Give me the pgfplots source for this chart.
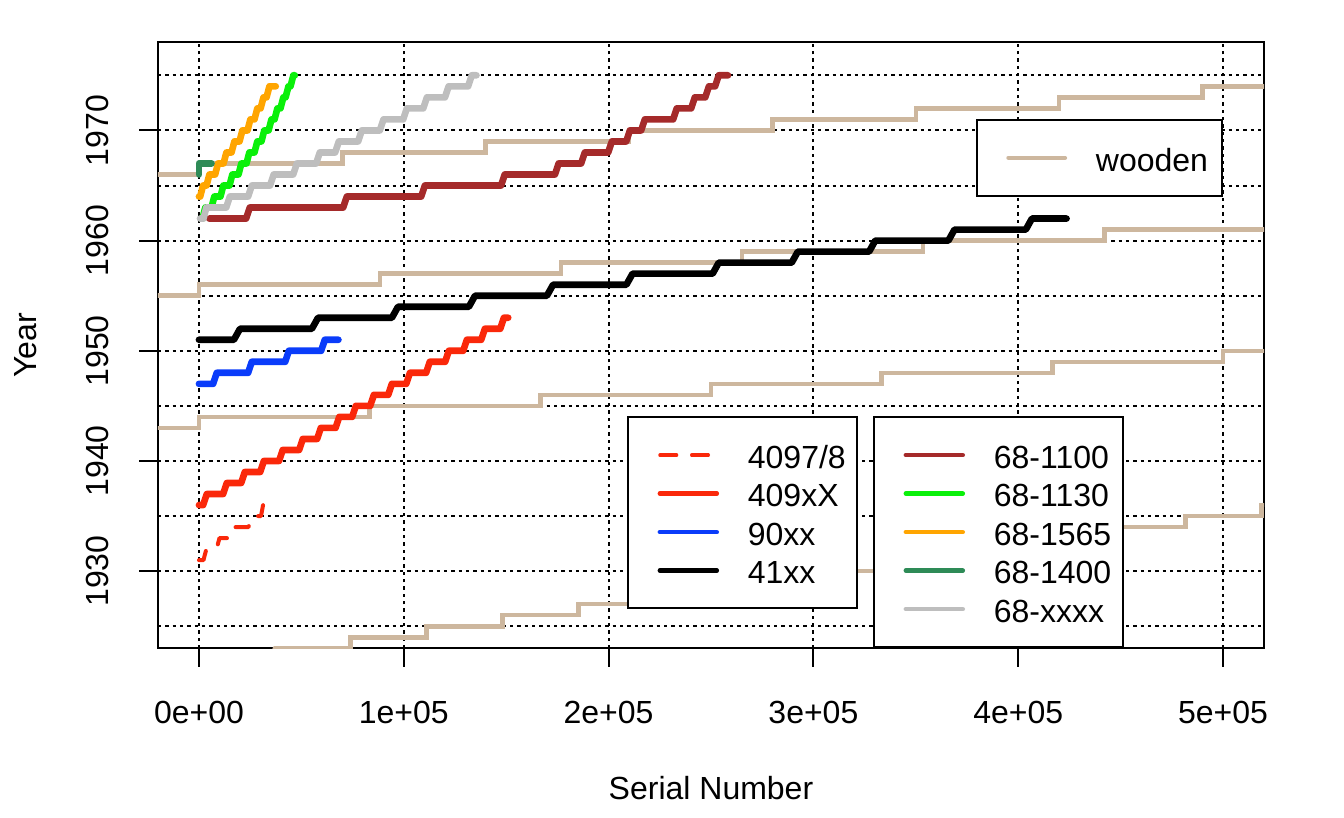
\documentclass[border=0pt]{standalone}
\usepackage{fontspec}
\setmainfont{Liberation Sans}
\usepackage{pgfplots}
\pgfplotsset{compat=1.18}
\definecolor{woodc}{RGB}{205,183,158}
\definecolor{redc}{RGB}{250,40,10}
\definecolor{bluec}{RGB}{10,60,250}
\definecolor{brownc}{RGB}{165,42,42}
\definecolor{greenc}{RGB}{10,240,10}
\definecolor{orangec}{RGB}{255,165,0}
\definecolor{seagreenc}{RGB}{46,139,87}
\definecolor{greyc}{RGB}{190,190,190}
\newcommand\LE[2]{\rule[-2.88pt]{0pt}{14.37pt}\makebox[#1][l]{#2}}
\pgfplotsset{
  basepos/.style={scale only axis, width=414.75pt, height=227.25pt,
    at={(59.25pt,63.64pt)}, anchor=south west,
    xmin=-20000, xmax=520000, ymin=1923, ymax=1978},
  mylegend/.style={legend cell align=left,
    legend style={draw=black, line width=0.75pt, fill=white,
      inner xsep=0pt, inner ysep=7.7pt, outer sep=0pt,
      row sep=1.45pt, column sep=9.9pt, anchor=north west,
      font=\fontsize{12}{14.4}\selectfont, nodes={inner sep=0pt}},
    legend image code/.code={\path (0pt,-1pt) (33.2pt,1pt); \draw[##1] (11pt,0pt) -- (32.3pt,0pt);}},
  heavy/.style={line width=2.5pt, line cap=round, line join=round},
  wood/.style={woodc, line width=1.7pt, line cap=round, const plot},
}
\begin{document}
\begin{tikzpicture}
\useasboundingbox (0,0) rectangle (504pt,306.75pt);
\begin{axis}[basepos,
  axis line style={line width=0.75pt},
  xtick={0,100000,200000,300000,400000,500000},
  xticklabels={0e+00,1e+05,2e+05,3e+05,4e+05,5e+05},
  scaled x ticks=false,
  ytick={1930,1940,1950,1960,1970},
  yticklabels={1930,1940,1950,1960,1970},
  minor ytick={1925,1935,1945,1955,1965,1975},
  xtick pos=left, ytick pos=left,
  tick align=inside, major tick length=-7.2pt, minor tick length=0pt,
  tick style={black, line width=0.75pt},
  grid=both,
  major grid style={black, line width=0.75pt, dash pattern=on 1.2pt off 1.55pt},
  minor grid style={black, line width=0.75pt, dash pattern=on 1.2pt off 1.55pt},
  tick label style={font=\fontsize{12}{14.4}\selectfont},
  xticklabel style={anchor=north, inner sep=0pt, yshift=-19.8pt},
  yticklabel style={xshift=-18.4pt, rotate=90, anchor=south, inner sep=0pt},
  xlabel={Serial Number}, ylabel={Year},
  label style={font=\fontsize{12}{14.4}\selectfont},
  xlabel style={at={(axis description cs:0.5,-0.2112)}, anchor=north, inner sep=0pt},
  ylabel style={at={(axis description cs:-0.1095,0.5)}, anchor=south, inner sep=0pt},
  mylegend, legend style={at={(0.7405,0.8718)}},
]
% wooden
\addplot[forget plot, wood] coordinates {(37000,1923) (74100,1924) (111150,1925) (148200,1926) (185250,1927) (222300,1928) (259350,1929) (296400,1930) (333450,1931) (370500,1932) (407550,1933) (444600,1934) (481650,1935) (518700,1936) (540000,1936)};
\addplot[forget plot, wood] coordinates {(-40000,1943) (0,1944) (83300,1945) (166700,1946) (250000,1947) (333300,1948) (416700,1949) (500000,1950) (540000,1950)};
\addplot[forget plot, wood] coordinates {(-40000,1955) (0,1956) (88400,1957) (176800,1958) (265200,1959) (353600,1960) (442000,1961) (540000,1961)};
\addplot[forget plot, wood] coordinates {(-40000,1966) (0,1967) (70000,1968) (140000,1969) (210000,1970) (280000,1971) (350000,1972) (420000,1973) (490000,1974) (540000,1974)};
% 4097/8
\addplot[forget plot, redc, line width=1.5pt, line cap=round, line join=round, dash pattern=on 5.25pt off 6.4pt] coordinates {(0,1931) (2200,1931) (3600,1932) (8600,1932) (10000,1933) (14400,1933) (15800,1934) (24200,1934) (25600,1935) (30300,1935) (31300,1936)};
% 409xX
\addplot[forget plot, redc, heavy] coordinates {(0,1936) (2030,1936) (3830,1937) (11800,1937) (13600,1938) (20600,1938) (22400,1939) (29900,1939) (31700,1940) (39100,1940) (40900,1941) (48900,1941) (50700,1942) (57700,1942) (59500,1943) (66700,1943) (68500,1944) (74800,1944) (76600,1945) (83600,1945) (85400,1946) (92400,1946) (94200,1947) (101200,1947) (103000,1948) (110900,1948) (112700,1949) (120200,1949) (122000,1950) (129000,1950) (130800,1951) (137800,1951) (139600,1952) (147100,1952) (148900,1953) (151000,1953)};
% 90xx
\addplot[forget plot, bluec, heavy] coordinates {(0,1947) (6900,1947) (8700,1948) (24000,1948) (25800,1949) (42100,1949) (43900,1950) (59650,1950) (61450,1951) (68100,1951)};
% 41xx
\addplot[forget plot, black, heavy] coordinates {(0,1951) (17050,1951) (20050,1952) (55140,1952) (58140,1953) (94200,1953) (97200,1954) (131800,1954) (134800,1955) (169900,1955) (172900,1956) (208700,1956) (211700,1957) (250800,1957) (253800,1958) (289400,1958) (292400,1959) (327200,1959) (330200,1960) (365900,1960) (368900,1961) (403700,1961) (406700,1962) (423600,1962)};
% 68-1100
\addplot[forget plot, brownc, heavy] coordinates {(5000,1962) (23000,1962) (24800,1963) (70400,1963) (72200,1964) (108500,1964) (110300,1965) (147500,1965) (149300,1966) (173800,1966) (175600,1967) (186600,1967) (188400,1968) (199800,1968) (201600,1969) (208600,1969) (210400,1970) (215900,1970) (217700,1971) (231500,1971) (233300,1972) (240300,1972) (242100,1973) (247200,1973) (249000,1974) (252000,1974) (253800,1975) (258300,1975)};
% 68-1130
\addplot[forget plot, greenc, heavy] coordinates {(1000,1962) (1700,1962) (3100,1963) (6100,1963) (7500,1964) (10500,1964) (11900,1965) (14900,1965) (16300,1966) (19300,1966) (20700,1967) (23200,1967) (24600,1968) (27100,1968) (28500,1969) (30500,1969) (31900,1970) (34000,1970) (35400,1971) (36900,1971) (38300,1972) (39800,1972) (41200,1973) (42300,1973) (43700,1974) (44700,1974) (46100,1975) (46800,1975)};
% 68-1565
\addplot[forget plot, orangec, heavy] coordinates {(0,1964) (600,1964) (2000,1965) (3700,1965) (5100,1966) (7900,1966) (9300,1967) (12000,1967) (13400,1968) (15900,1968) (17300,1969) (19800,1969) (21200,1970) (23700,1970) (25100,1971) (27100,1971) (28500,1972) (30100,1972) (31500,1973) (33000,1973) (34400,1974) (37500,1974)};
% 68-1400
\addplot[forget plot, seagreenc, heavy] coordinates {(0,1966) (0,1967) (6100,1967)};
% 68-xxxx
\addplot[forget plot, greyc, heavy] coordinates {(500,1962) (2200,1962) (3600,1963) (13300,1963) (15100,1964) (24000,1964) (25800,1965) (34700,1965) (36500,1966) (46000,1966) (47800,1967) (57200,1967) (59000,1968) (66500,1968) (68300,1969) (77700,1969) (79500,1970) (88300,1970) (90100,1971) (99700,1971) (101500,1972) (109500,1972) (111300,1973) (120100,1973) (121900,1974) (131400,1974) (133200,1975) (135500,1975)};
\addlegendimage{woodc, line width=1.5pt, line cap=round}
\addlegendentry{\LE{47.25pt}{wooden}}
\end{axis}
\begin{axis}[basepos, hide axis, mylegend, legend style={at={(0.4252,0.3812)}}]
\addlegendimage{redc, line width=1.25pt, line cap=round, dash pattern=on 6.25pt off 5.65pt}
\addlegendentry{\LE{40.8pt}{4097/8}}
\addlegendimage{redc, line width=1.75pt, line cap=round}
\addlegendentry{\LE{40.8pt}{409xX}}
\addlegendimage{bluec, line width=1.75pt, line cap=round}
\addlegendentry{\LE{40.8pt}{90xx}}
\addlegendimage{black, line width=1.75pt, line cap=round}
\addlegendentry{\LE{40.8pt}{41xx}}
\end{axis}
\begin{axis}[basepos, hide axis, mylegend, legend style={at={(0.6476,0.3812)}}]
\addlegendimage{brownc, line width=1.75pt, line cap=round}
\addlegendentry{\LE{48.5pt}{68-1100}}
\addlegendimage{greenc, line width=1.75pt, line cap=round}
\addlegendentry{\LE{48.5pt}{68-1130}}
\addlegendimage{orangec, line width=1.75pt, line cap=round}
\addlegendentry{\LE{48.5pt}{68-1565}}
\addlegendimage{seagreenc, line width=1.75pt, line cap=round}
\addlegendentry{\LE{48.5pt}{68-1400}}
\addlegendimage{greyc, line width=1.75pt, line cap=round}
\addlegendentry{\LE{48.5pt}{68-xxxx}}
\end{axis}
\end{tikzpicture}
\end{document}
